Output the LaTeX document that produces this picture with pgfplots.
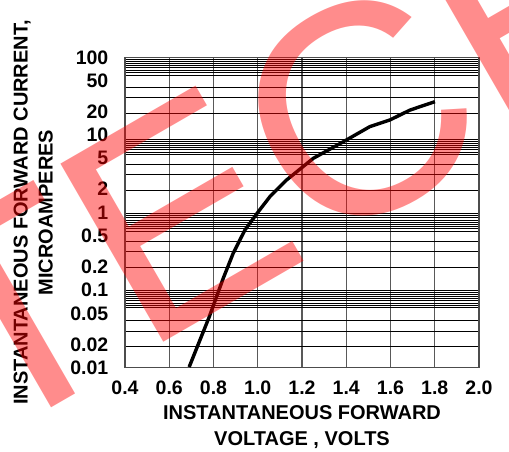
\documentclass[border=0pt]{standalone}
\usepackage{fontspec}
\setmainfont{Liberation Sans}
\usepackage{pgfplots}
\pgfplotsset{compat=1.18}
\begin{document}
\begin{tikzpicture}
\useasboundingbox (-125bp,-84.3bp) rectangle (384bp,367.7bp);
\begin{axis}[
  at={(0,0)}, anchor=south west,
  scale only axis, width=354bp, height=310.4bp,
  xmin=0.4, xmax=2.0, ymode=log, ymin=0.01, ymax=100,
  xtick={0.4,0.6,0.8,1.0,1.2,1.4,1.6,1.8,2.0},
  xticklabels={0.4,0.6,0.8,1.0,1.2,1.4,1.6,1.8,2.0},
  ytick={0.01,0.02,0.05,0.1,0.2,0.5,1,2,5,10,20,50,100},
  yticklabels={0.01,0.02,0.05,0.1,0.2,0.5,1,2,5,10,20,50,100},
  minor ytick={94.2,88.8,82.7,77.9,73.4,68.6,64.6,57.9,40.6,30.8,19.1,
    8.85,8.34,7.79,7.34,6.84,6.45,6.02,5.67,4.18,3.13,1.93,
    0.977,0.910,0.857,0.800,0.754,0.705,0.664,0.618,0.578,0.420,0.3126,0.1967,
    0.1003,0.0937,0.0883,0.0822,0.0775,0.0730,0.0682,0.0643,0.0600,0.0412,0.0297,0.0190},
  major tick length=0pt, minor tick length=0pt,
  xmajorgrids=true, ymajorgrids=false, yminorgrids=true, xminorgrids=false,
  major grid style={black!65, line width=1.3bp},
  minor grid style={black, line width=0.75bp},
  axis line style={black!70, line width=1.2bp},
  tick label style={font=\fontsize{19.5bp}{20bp}\selectfont\bfseries},
  /pgf/number format/assume math mode=true,
  xticklabel style={anchor=north, inner sep=0pt, yshift=-13.3bp},
  yticklabel style={anchor=east, inner sep=0pt, xshift=-16.5bp},
  xlabel={INSTANTANEOUS FORWARD\\VOLTAGE , VOLTS},
  ylabel={INSTANTANEOUS FORWARD CURRENT,\\MICROAMPERES},
  xlabel style={at={(axis description cs:0.5,-0.1202)}, anchor=north, inner sep=0pt, align=center, font=\fontsize{20bp}{26bp}\selectfont\bfseries},
  ylabel style={at={(axis description cs:-0.2034,0.5)}, anchor=south, inner sep=0pt, align=center, font=\fontsize{20bp}{25bp}\selectfont\bfseries},
]
\addplot[black, line width=3.4bp, line join=round, mark=none] table {
x y
0.690 0.0102
0.781 0.0454
0.844 0.142
0.889 0.298
0.942 0.595
1.002 1.02
1.055 1.60
1.070 1.77
1.130 2.62
1.251 4.99
1.387 8.17
1.507 12.8
1.598 15.6
1.688 20.9
1.801 26.8
};
\end{axis}
\node[anchor=base west, rotate=30, inner sep=0pt, text=red, text opacity=0.45,
  font=\fontsize{299bp}{299bp}\selectfont] at (-140.7bp,-78.5bp) {TECH};
\end{tikzpicture}
\end{document}
